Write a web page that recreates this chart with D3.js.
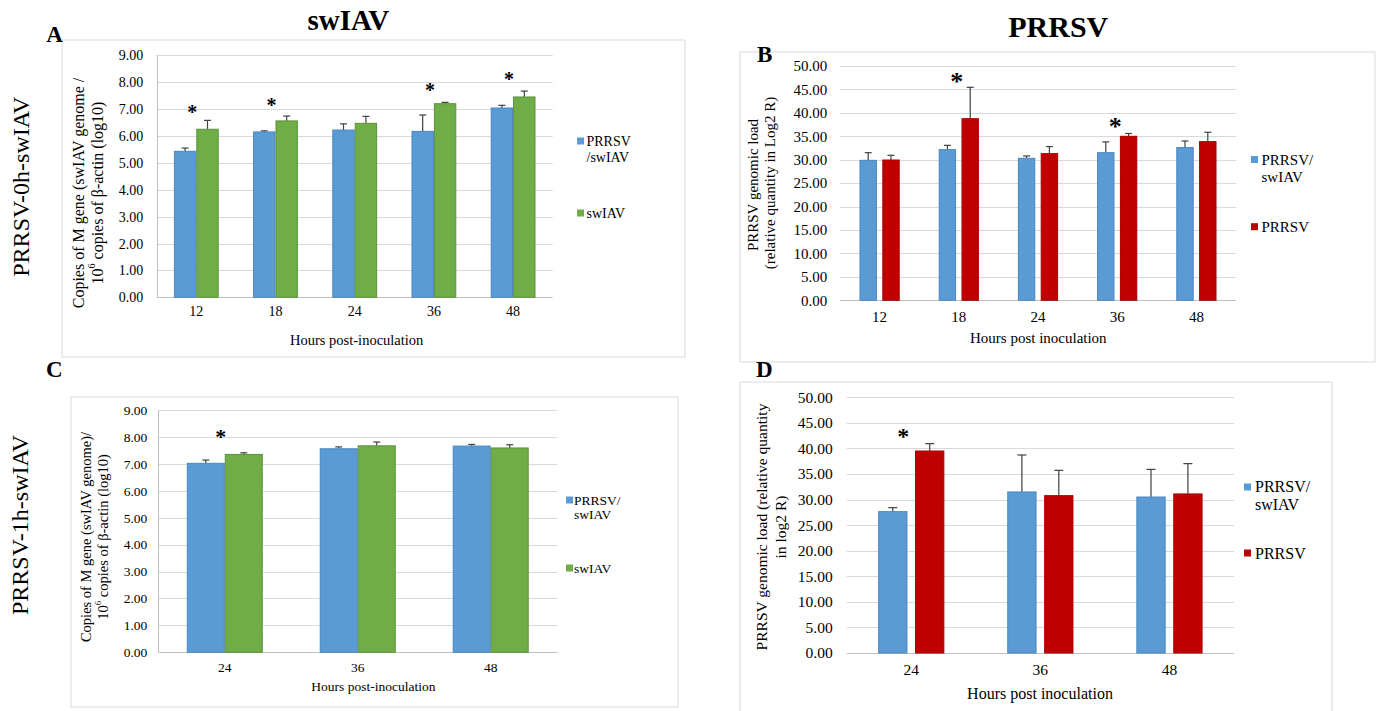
<!DOCTYPE html>
<html>
<head>
<meta charset="utf-8">
<script src="https://cdn.jsdelivr.net/npm/d3@7"></script>
<style>
  html, body { margin: 0; padding: 0; background: #fff; }
  svg { display: block; }
  text { font-family: "Liberation Serif", "Times New Roman", serif; fill: #000; }
</style>
</head>
<body>
<script>
// ---------------- DATA ----------------
const catsTop = ["12", "18", "24", "36", "48"];
const catsBottom = ["24", "36", "48"];
const ticksSwIAV = [0, 1, 2, 3, 4, 5, 6, 7, 8, 9];
const ticksPRRSV = [0, 5, 10, 15, 20, 25, 30, 35, 40, 45, 50];

// Panel A: swIAV, PRRSV-0h-swIAV
const coinfA = [5.43, 6.15, 6.22, 6.17, 7.04];
const coinfAErr = [0.12, 0.04, 0.23, 0.61, 0.10];
const swiavA = [6.25, 6.56, 6.47, 7.20, 7.45];
const swiavAErr = [0.33, 0.18, 0.26, 0.05, 0.22];
const sigA = [7.0, 7.27, null, 7.83, 8.24];

// Panel B: PRRSV, PRRSV-0h-swIAV
const coinfB = [29.87, 32.15, 30.30, 31.50, 32.60];
const coinfBErr = [1.63, 0.92, 0.50, 2.30, 1.40];
const prrsvB = [29.94, 38.76, 31.30, 35.00, 33.86];
const prrsvBErr = [1.00, 6.69, 1.50, 0.60, 2.00];
const sigB = [null, 47.6, null, 38.1, null];

// Panel C: swIAV, PRRSV-1h-swIAV
const coinfC = [7.02, 7.56, 7.66];
const coinfCErr = [0.12, 0.07, 0.06];
const swiavC = [7.35, 7.67, 7.59];
const swiavCErr = [0.06, 0.14, 0.12];
const sigC = [8.16, null, null];

// Panel D: PRRSV, PRRSV-1h-swIAV
const coinfD = [27.64, 31.49, 30.50];
const coinfDErr = [0.78, 7.23, 5.40];
const prrsvD = [39.50, 30.77, 31.10];
const prrsvDErr = [1.44, 4.95, 5.93];
const sigD = [43.3, null, null];

// ---------------- DRAW ----------------
const W = 1381, H = 711;
const svg = d3.select("body").append("svg").attr("width", W).attr("height", H);

const BLUE = "#5b9bd5", BLUE_E = "#4a86c0";
const GREEN = "#70ad47", GREEN_E = "#5b9339";
const RED = "#c00000", RED_E = "#a80000";

function panel(c) {
  const g = svg.append("g");
  // frame
  g.append("rect").attr("x", c.frame[0]).attr("y", c.frame[1])
    .attr("width", c.frame[2] - c.frame[0]).attr("height", c.frame[3] - c.frame[1])
    .attr("fill", "#fff").attr("stroke", "#d9d9d9").attr("stroke-width", 1);

  const x = d3.scaleBand().domain(c.cats).range([c.x0, c.x1]).paddingInner(0).paddingOuter(0);
  const y = d3.scaleLinear().domain([0, c.ymax]).range([c.ybot, c.ytop]);

  // gridlines
  g.append("g").selectAll("line").data(c.ticks.filter(t => t > 0)).join("line")
    .attr("x1", c.x0).attr("x2", c.x1)
    .attr("y1", d => Math.round(y(d)) + 0.5).attr("y2", d => Math.round(y(d)) + 0.5)
    .attr("stroke", "#d9d9d9").attr("stroke-width", 1);

  // y axis labels via d3 axis
  const ya = g.append("g").attr("transform", `translate(${c.x0},0)`)
    .call(d3.axisLeft(y).tickValues(c.ticks).tickFormat(d3.format(".2f"))
      .tickSizeInner(0).tickSizeOuter(0).tickPadding(c.tickPad));
  ya.select(".domain").remove();
  ya.attr("font-family", null);
  ya.selectAll("text").attr("font-size", c.tickFs).attr("fill", "#000");

  // baseline & optional left axis
  g.append("line").attr("x1", c.x0).attr("x2", c.x1)
    .attr("y1", Math.round(y(0)) + 0.5).attr("y2", Math.round(y(0)) + 0.5)
    .attr("stroke", "#bfbfbf").attr("stroke-width", 1);
  if (c.leftAxis) {
    g.append("line").attr("x1", Math.round(c.x0) + 0.5).attr("x2", Math.round(c.x0) + 0.5)
      .attr("y1", y(c.ymax)).attr("y2", y(0))
      .attr("stroke", "#bfbfbf").attr("stroke-width", 1);
  }

  // x axis labels
  const xa = g.append("g").attr("transform", `translate(0,${y(0)})`)
    .call(d3.axisBottom(x).tickSizeInner(0).tickSizeOuter(0).tickPadding(c.xPad));
  xa.select(".domain").remove();
  xa.attr("font-family", null);
  xa.selectAll("text").attr("font-size", c.tickFs).attr("fill", "#000");

  // bars
  const series = [
    { vals: c.s1, errs: c.e1, fill: BLUE, edge: BLUE_E, off: -(c.gap / 2 + c.bw / 2) },
    { vals: c.s2, errs: c.e2, fill: c.color2, edge: c.edge2, off: (c.gap / 2 + c.bw / 2) }
  ];
  series.forEach(s => {
    const rows = c.cats.map((k, i) => ({ k, v: s.vals[i], e: s.errs[i] }));
    const cx = d => x(d.k) + x.bandwidth() / 2 + s.off;
    g.append("g").selectAll("line").data(rows).join("line")
      .attr("x1", cx).attr("x2", cx)
      .attr("y1", d => y(d.v)).attr("y2", d => y(d.v + d.e))
      .attr("stroke", "#404040").attr("stroke-width", 1.2);
    g.append("g").selectAll("line").data(rows).join("line")
      .attr("x1", d => cx(d) - c.cap / 2).attr("x2", d => cx(d) + c.cap / 2)
      .attr("y1", d => y(d.v + d.e)).attr("y2", d => y(d.v + d.e))
      .attr("stroke", "#404040").attr("stroke-width", 1.2);
    g.append("g").selectAll("rect").data(rows).join("rect")
      .attr("x", d => cx(d) - c.bw / 2 + 0.5).attr("width", c.bw - 1)
      .attr("y", d => y(d.v)).attr("height", d => y(0) - y(d.v))
      .attr("fill", s.fill).attr("stroke", s.edge).attr("stroke-width", 1);
  });

  // significance asterisks
  const sigRows = c.cats.map((k, i) => ({ k, v: c.sig[i] })).filter(d => d.v != null);
  g.append("g").selectAll("text").data(sigRows).join("text")
    .attr("x", d => x(d.k) + x.bandwidth() / 2 + c.sigDx)
    .attr("y", d => y(d.v) + c.sigFs * 0.5)
    .attr("text-anchor", "middle").attr("font-size", c.sigFs).attr("font-weight", "bold")
    .text("*");

  // x axis title
  g.append("text").attr("x", c.xlab[0]).attr("y", c.xlab[1])
    .attr("text-anchor", "middle").attr("dominant-baseline", "central")
    .attr("font-size", c.xlabFs).text(c.xlabText);

  // y axis title lines
  c.ylab.forEach(l => {
    const t = g.append("text")
      .attr("transform", `translate(${l.x},${l.y}) rotate(-90)`)
      .attr("text-anchor", "middle").attr("dominant-baseline", "central")
      .attr("font-size", c.ylabFs);
    if (l.sup) {
      t.append("tspan").text("10");
      t.append("tspan").attr("font-size", c.ylabFs * 0.62).attr("dy", -c.ylabFs * 0.35).text("6");
      t.append("tspan").attr("dy", c.ylabFs * 0.35).text(" " + l.text);
    } else {
      t.text(l.text);
    }
  });

  // legend
  c.legend.forEach(L => {
    g.append("rect").attr("x", L.sx).attr("y", L.sy - 3.5).attr("width", 7).attr("height", 7)
      .attr("fill", L.color);
    L.lines.forEach((txt, j) => {
      g.append("text").attr("x", L.tx).attr("y", L.by + j * L.lh)
        .attr("font-size", c.legFs).text(txt);
    });
  });
}

// Panel A
panel({
  frame: [62, 40, 685, 357],
  cats: catsTop, ticks: ticksSwIAV, ymax: 9,
  x0: 156.7, x1: 552.7, ytop: 55.3, ybot: 297.3,
  bw: 22.4, gap: 0, cap: 7, leftAxis: true,
  s1: coinfA, e1: coinfAErr, s2: swiavA, e2: swiavAErr, color2: GREEN, edge2: GREEN_E,
  sig: sigA, sigFs: 20, sigDx: -4,
  tickFs: 14, tickPad: 13.5, xPad: 9,
  xlab: [356.7, 340], xlabFs: 14.5, xlabText: "Hours post-inoculation",
  ylabFs: 16,
  ylab: [
    { x: 78.3, y: 193, text: "Copies of M gene (swIAV genome /" },
    { x: 96.7, y: 193, text: "copies of β-actin (log10)", sup: true }
  ],
  legFs: 14,
  legend: [
    { color: BLUE, sx: 577, sy: 141, tx: 586.5, by: 146, lh: 15.7, lines: ["PRRSV", "/swIAV"] },
    { color: GREEN, sx: 577, sy: 213, tx: 586.5, by: 218, lh: 15.7, lines: ["swIAV"] }
  ]
});

// Panel B
panel({
  frame: [740, 52, 1375, 362],
  cats: catsTop, ticks: ticksPRRSV, ymax: 50,
  x0: 840, x1: 1236, ytop: 66, ybot: 300.3,
  bw: 17.4, gap: 5.4, cap: 7, leftAxis: false,
  s1: coinfB, e1: coinfBErr, s2: prrsvB, e2: prrsvBErr, color2: RED, edge2: RED_E,
  sig: sigB, sigFs: 26, sigDx: -2,
  tickFs: 15, tickPad: 12.7, xPad: 11,
  xlab: [1038.3, 338], xlabFs: 15, xlabText: "Hours post inoculation",
  ylabFs: 15,
  ylab: [
    { x: 752.5, y: 185, text: "PRRSV genomic load" },
    { x: 769.5, y: 183, text: "(relative quantity in Log2 R)" }
  ],
  legFs: 15,
  legend: [
    { color: BLUE, sx: 1251, sy: 159.5, tx: 1261.5, by: 165, lh: 16.7, lines: ["PRRSV/", "swIAV"] },
    { color: RED, sx: 1251, sy: 226.7, tx: 1261.5, by: 232, lh: 16.7, lines: ["PRRSV"] }
  ]
});

// Panel C
panel({
  frame: [71, 397, 678, 707],
  cats: catsBottom, ticks: ticksSwIAV, ymax: 9,
  x0: 158.3, x1: 557.2, ytop: 410, ybot: 652.3,
  bw: 38, gap: 0, cap: 7, leftAxis: true,
  s1: coinfC, e1: coinfCErr, s2: swiavC, e2: swiavCErr, color2: GREEN, edge2: GREEN_E,
  sig: sigC, sigFs: 22, sigDx: -4,
  tickFs: 13.5, tickPad: 11, xPad: 10,
  xlab: [373.4, 686], xlabFs: 13.5, xlabText: "Hours post-inoculation",
  ylabFs: 14.5,
  ylab: [
    { x: 86, y: 537, text: "Copies of M gene (swIAV genome)/" },
    { x: 103.3, y: 537, text: "copies of β-actin (log10)", sup: true }
  ],
  legFs: 13.5,
  legend: [
    { color: BLUE, sx: 566, sy: 500, tx: 574, by: 505, lh: 13.5, lines: ["PRRSV/", "swIAV"] },
    { color: GREEN, sx: 566, sy: 568, tx: 574, by: 573, lh: 13.5, lines: ["swIAV"] }
  ]
});

// Panel D
panel({
  frame: [740, 382, 1332, 715],
  cats: catsBottom, ticks: ticksPRRSV, ymax: 50,
  x0: 846.7, x1: 1234, ytop: 397.3, ybot: 653,
  bw: 29.3, gap: 7.6, cap: 9, leftAxis: false,
  s1: coinfD, e1: coinfDErr, s2: prrsvD, e2: prrsvDErr, color2: RED, edge2: RED_E,
  sig: sigD, sigFs: 24, sigDx: -8,
  tickFs: 15.5, tickPad: 14, xPad: 11,
  xlab: [1040, 693.3], xlabFs: 16, xlabText: "Hours post inoculation",
  ylabFs: 15.5,
  ylab: [
    { x: 761.7, y: 527, text: "PRRSV genomic load (relative quantity" },
    { x: 780, y: 527, text: "in log2 R)" }
  ],
  legFs: 16,
  legend: [
    { color: BLUE, sx: 1244, sy: 487, tx: 1255, by: 492, lh: 18.3, lines: ["PRRSV/", "swIAV"] },
    { color: RED, sx: 1244, sy: 553, tx: 1255, by: 558.5, lh: 18.3, lines: ["PRRSV"] }
  ]
});

// Titles, panel letters, row labels
svg.append("text").attr("x", 348.3).attr("y", 30).attr("text-anchor", "middle")
  .attr("font-size", 29).attr("font-weight", "bold").text("swIAV");
svg.append("text").attr("x", 1058.3).attr("y", 37).attr("text-anchor", "middle")
  .attr("font-size", 30).attr("font-weight", "bold").text("PRRSV");

[["A", 54.5, 41.7], ["B", 764.7, 61.7], ["C", 54.2, 376.7], ["D", 764.2, 376.7]].forEach(([t, x, yy]) => {
  svg.append("text").attr("x", x).attr("y", yy).attr("text-anchor", "middle")
    .attr("font-size", 23).attr("font-weight", "bold").text(t);
});

[["PRRSV-0h-swIAV", 20.7, 186.7], ["PRRSV-1h-swIAV", 20.2, 525]].forEach(([t, x, yy]) => {
  svg.append("text").attr("transform", `translate(${x},${yy}) rotate(-90)`)
    .attr("text-anchor", "middle").attr("dominant-baseline", "central")
    .attr("font-size", 24).text(t);
});
</script>
</body>
</html>
